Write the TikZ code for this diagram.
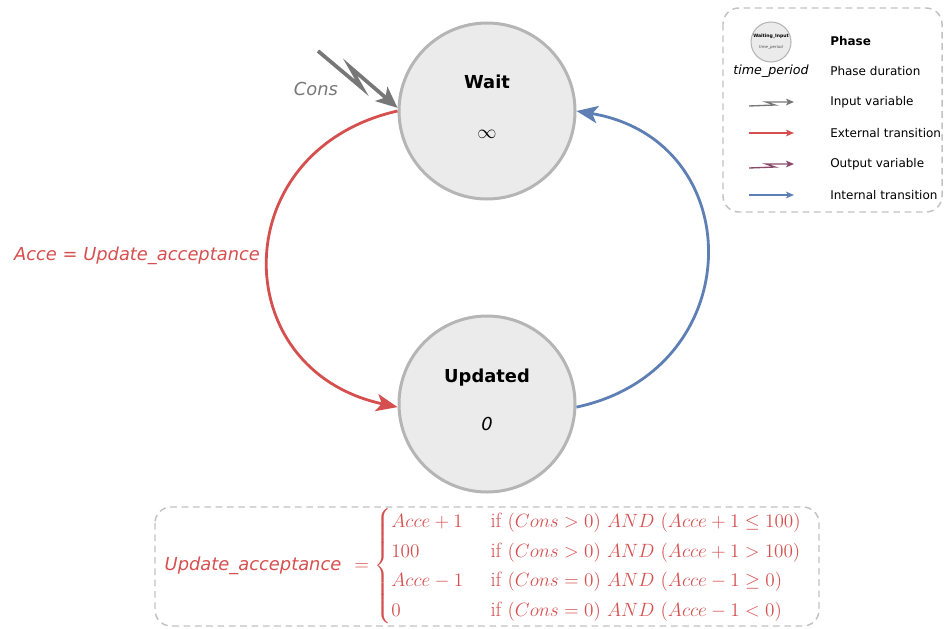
\documentclass[tikz,border=0pt]{standalone}
\usepackage{amsmath}
\usepackage{fontspec}
\usetikzlibrary{arrows.meta, positioning}
\newfontfamily\dejavu{DejaVu Sans}

\definecolor{phasefill}{HTML}{EBEBEB}
\definecolor{phaseline}{HTML}{B5B5B5}
\definecolor{extred}{HTML}{D64F4F}
\definecolor{intblue}{HTML}{5D7FB3}
\definecolor{ingray}{HTML}{777777}
\definecolor{outpurple}{HTML}{884A6A}
\definecolor{boxgray}{HTML}{C2C2C2}

\tikzset{
  phase/.style={circle, draw=phaseline, fill=phasefill, line width=2.25pt, minimum size=132pt, inner sep=0pt},
  phasename/.style={font=\dejavu\fontsize{13.4}{16}\selectfont\bfseries},
  phasetime/.style={font=\fontsize{14}{16}\selectfont},
  label/.style={font=\dejavu\fontsize{13.4}{16}\selectfont\itshape},
  legendtext/.style={font=\dejavu\fontsize{9}{11}\selectfont, anchor=west, inner sep=0pt},
  dashbox/.style={draw=boxgray, line width=1.1pt, dash pattern=on 5pt off 3.5pt, rounded corners=12pt},
  ext/.style={draw=extred, line width=2.1pt, -{Stealth[length=16pt, width=13pt, inset=4pt]}},
  int/.style={draw=intblue, line width=2.1pt, -{Stealth[length=16pt, width=13pt, inset=4pt]}},
  inarrow/.style={draw=ingray, line width=2.8pt, -{Stealth[length=16pt, width=14pt, inset=4pt]}},
  small/.style={line width=1pt, -{Stealth[length=6pt, width=5pt, inset=1.5pt]}}
}
\newcommand{\ifcond}{\hspace{5pt}\text{if}\ }

\begin{document}
\begin{tikzpicture}[x=0.75pt, y=-0.75pt]
\useasboundingbox (0,0) rectangle (944,628);

% phases
\node[phase] (wait) at (487,111) {};
\node[phasename] (waitname) at (487,82) {Wait};
\node[phasetime] (waittime) at (487,134) {$\infty$};

\node[phase] (updated) at (487,404) {};
\node[phasename] (updname) at (487,378) {Updated};
\node[label] (updtime) at (487,424) {0};

% transitions
\draw[ext] (wait.west) .. controls (225,150) and (225,370) .. (updated.182);
\draw[int] (updated.358) .. controls (750,370) and (750,140) .. (wait.east);
\node[label, text=extred] (extlabel) at (137,256) {Acce = Update\_acceptance};

% input
\coordinate (consin) at (318,51);
\draw[inarrow] (consin) -- (362,88) -- (350,67) -- (wait.178);
\node[label, text=ingray] (conslabel) at (316,89) {Cons};

% legend
\draw[dashbox] (723,8) rectangle (942,212);
\node[circle, draw=phaseline, fill=phasefill, line width=0.8pt, minimum size=30pt, inner sep=0pt] (legphase) at (771,42) {};
\node[font=\dejavu\fontsize{3.4}{4}\selectfont\bfseries, inner sep=0pt] (legname) at (771,36) {Waiting\_Input};
\node[font=\dejavu\fontsize{3}{4}\selectfont\itshape, text=black!70, inner sep=0pt] (legtime) at (771,47) {time\_period};
\node[font=\dejavu\fontsize{9.5}{11}\selectfont\itshape, inner sep=0pt] (legdur) at (771,71) {time\_period};
\node[legendtext, font=\dejavu\fontsize{9}{11}\selectfont\bfseries] (tphase) at (830,41) {Phase};
\node[legendtext] (tdur) at (830,71) {Phase duration};
\node[legendtext] (tin) at (830,102) {Input variable};
\node[legendtext] (text) at (830,133) {External transition};
\node[legendtext] (tout) at (830,164) {Output variable};
\node[legendtext] (tint) at (830,195) {Internal transition};

\coordinate (inA) at (749,106);
\coordinate (inB) at (794,102);
\draw[small, draw=ingray] (inA) -- (775,105) -- (766,102) -- (inB);
\coordinate (extA) at (749,133);
\coordinate (extB) at (794,133);
\draw[small, draw=extred] (extA) -- (extB);
\coordinate (outA) at (749,168);
\coordinate (outB) at (794,164);
\draw[small, draw=outpurple] (outA) -- (775,167) -- (766,164) -- (outB);
\coordinate (intA) at (749,195);
\coordinate (intB) at (794,195);
\draw[small, draw=intblue] (intA) -- (intB);

% update function
\draw[dashbox] (155,507) rectangle (819,626);
\node[label, text=extred] (fname) at (253,566) {Update\_acceptance};
\node[right=6pt of fname, text=extred, font=\fontsize{15.5}{18.5}\selectfont, inner sep=0pt] (fcases) {$=
  \begin{cases}
    Acce+1 & \ifcond (Cons>0)\ AND\ (Acce+1\leq 100)\\
    100 & \ifcond (Cons>0)\ AND\ (Acce+1>100)\\
    Acce-1 & \ifcond (Cons=0)\ AND\ (Acce-1\geq 0)\\
    0 & \ifcond (Cons=0)\ AND\ (Acce-1<0)
  \end{cases}$};
\end{tikzpicture}
\end{document}
